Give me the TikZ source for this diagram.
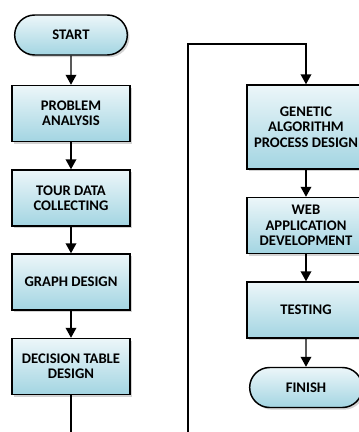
\documentclass[tikz,border=0pt]{standalone}
\usepackage{fontspec}
\setmainfont{Carlito}
\usetikzlibrary{shapes.misc,shadows,arrows.meta}
\definecolor{boxtop}{RGB}{236,246,249}
\definecolor{boxbot}{RGB}{163,213,226}

\begin{document}
\begin{tikzpicture}[x=0.75pt,y=-0.75pt,
  base/.style={draw=black,line width=1.1pt,top color=boxtop,bottom color=boxbot,
    drop shadow={opacity=0.35,shadow xshift=1.6pt,shadow yshift=-1.6pt},
    align=center,font=\fontsize{11}{11.5}\selectfont\bfseries,
    minimum width=88.5pt,inner sep=2pt},
  proc/.style={base,rectangle,minimum height=42pt},
  term/.style={base,rounded rectangle,minimum height=30pt},
  flow/.style={line width=1.1pt,-{Triangle[width=8pt,length=7.5pt]}}]
  \useasboundingbox (0,0) rectangle (359,432);
  \clip (0,0) rectangle (359,432);
  % left column
  \node[term] (start) at (71,35) {START};
  \node[proc] (prob) at (71,113.5) {PROBLEM\\ANALYSIS};
  \node[proc] (tour) at (71,198) {TOUR DATA\\COLLECTING};
  \node[proc] (graph) at (71,282) {GRAPH DESIGN};
  \node[proc] (dec) at (71,366.5) {DECISION TABLE\\DESIGN};
  % right column
  \node[proc,minimum height=63pt] (gen) at (306,127) {GENETIC\\ALGORITHM\\PROCESS DESIGN};
  \node[proc] (web) at (306,225.5) {WEB\\APPLICATION\\DEVELOPMENT};
  \node[proc] (test) at (306,310) {TESTING};
  \node[term] (fin) at (306,387.5) {FINISH};
  % connectors
  \draw[flow] (start) -- (prob);
  \draw[flow] (prob) -- (tour);
  \draw[flow] (tour) -- (graph);
  \draw[flow] (graph) -- (dec);
  \draw[flow] (gen) -- (web);
  \draw[flow] (web) -- (test);
  \draw[flow] (test) -- (fin);
  % wrap-around from the first column into the second
  \coordinate (low) at (71,445);
  \coordinate (up) at (188,44);
  \draw[flow] (dec.south) -- (low) -| (up) -| (gen.north);
\end{tikzpicture}
\end{document}
